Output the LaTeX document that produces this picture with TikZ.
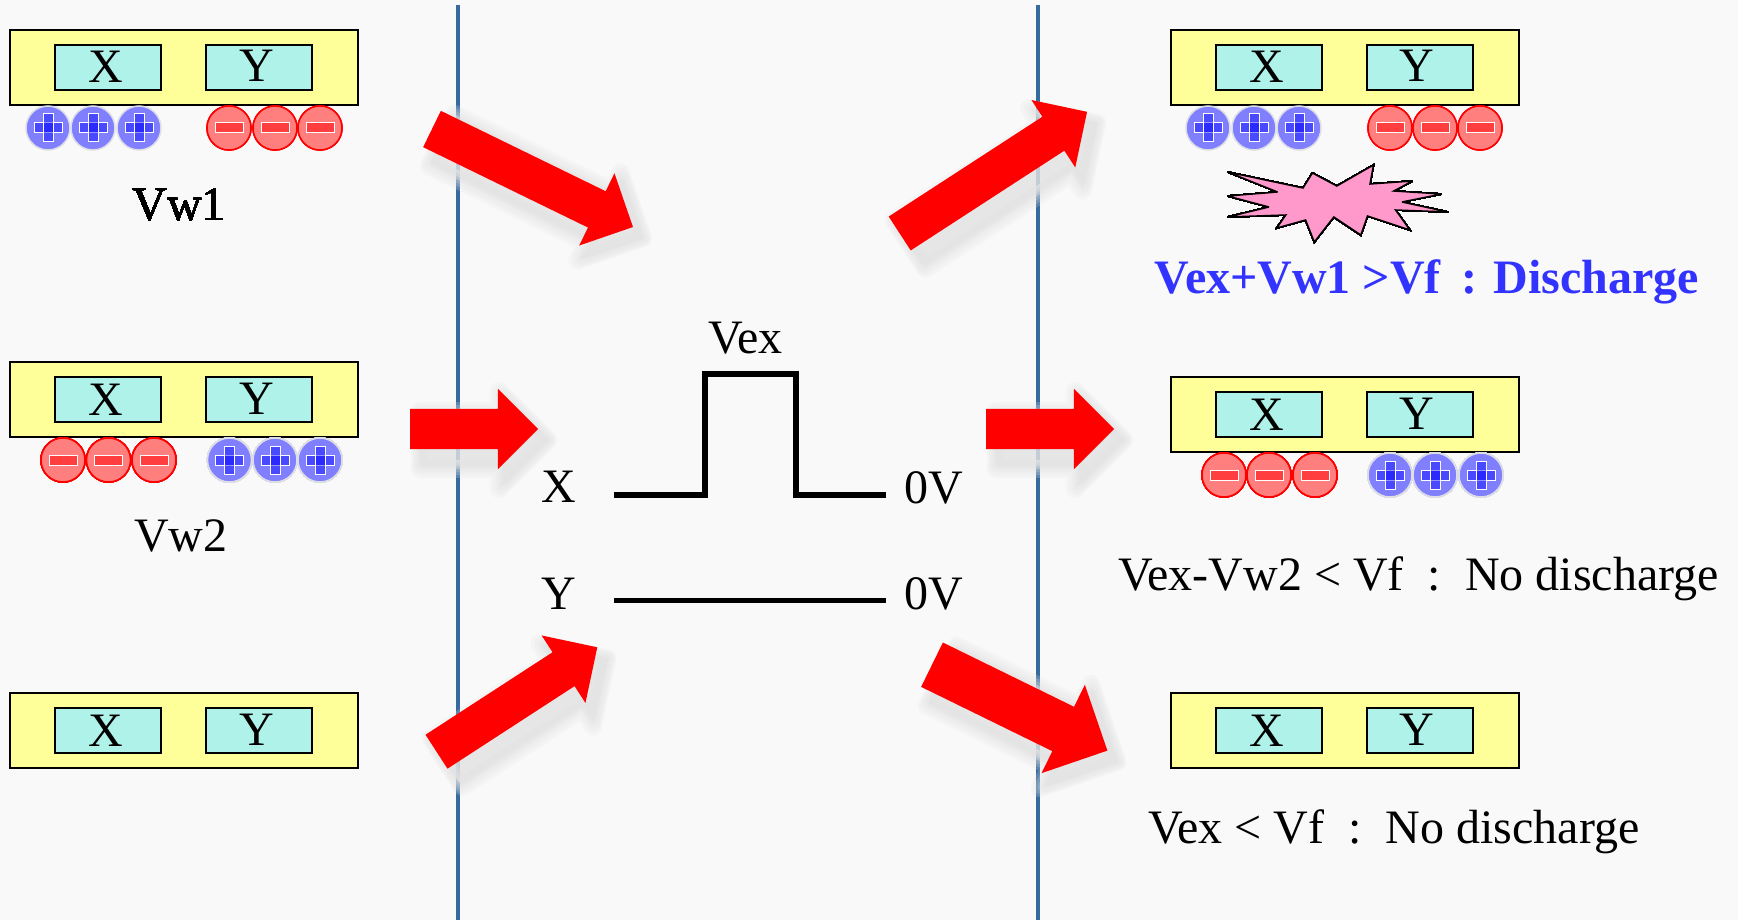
\documentclass[tikz,border=0pt]{standalone}
\usepackage{fontspec}
\setmainfont{Liberation Serif}
\usetikzlibrary{shapes.arrows}
\definecolor{pagebg}{HTML}{F9F9F9}
\definecolor{platefill}{HTML}{FFFF99}
\definecolor{cellfill}{HTML}{AEF2EA}
\definecolor{rulecolor}{HTML}{376A9E}
\definecolor{plusfill}{HTML}{7F7FFF}
\definecolor{plusedge}{HTML}{DDDDE6}
\definecolor{minusfill}{HTML}{FF7F7F}
\definecolor{sparkfill}{HTML}{FF99CC}
\definecolor{dischargeblue}{HTML}{3333FF}
\definecolor{shadecolor}{HTML}{E4E4E4}
\tikzset{
	txt/.style={font=\fontsize{48}{48}\selectfont, inner sep=0pt, anchor=base},
	plate/.style={draw=black, line width=2pt, fill=platefill, minimum width=348, minimum height=75, inner sep=0pt, outer sep=0pt},
	cell/.style={draw=black, line width=2pt, fill=cellfill, minimum width=106, minimum height=45, inner sep=0pt, outer sep=0pt},
	divider/.style={rulecolor, line width=4pt},
	wave/.style={black, line width=5.5pt},
	arrowbase/.style={single arrow, inner xsep=0pt, outer sep=0pt, anchor=tail},
	redarrow/.style={arrowbase, fill=red},
	arrowshade/.style={arrowbase, fill=shadecolor, draw=shadecolor, opacity=.22, line join=round},
	pluscharge/.style={circle, draw=plusedge, line width=1.5pt, fill=plusfill, minimum size=44, inner sep=0pt},
	minuscharge/.style={circle, draw=red, line width=1.5pt, fill=minusfill, minimum size=44, inner sep=0pt}
}
% plate with its two cells: name, x, y of the top left corner
\newcommand{\plateat}[3]{
	\node[plate, anchor=north west] (#1) at (#2,#3) {};
	\node[cell, anchor=north west] (#1x) at ([shift={(45,15)}]#1.north west) {};
	\node[cell, anchor=north west] (#1y) at ([shift={(196,15)}]#1.north west) {};
	\node[txt] (#1xl) at ([shift={(-2,15.5)}]#1x.center) {X};
	\node[txt] (#1yl) at ([shift={(-2.5,14.5)}]#1y.center) {Y};
}
% one charge: name, x, y
\newcommand{\plusat}[3]{
	\node[pluscharge] (#1) at (#2,#3) {};
	\draw[white, line width=1pt, fill=blue, fill opacity=.42] ([shift={(-14,-5)}]#1.center) rectangle ([shift={(14,5)}]#1.center);
	\draw[white, line width=1pt, fill=blue, fill opacity=.42] ([shift={(-5,-14)}]#1.center) rectangle ([shift={(5,14)}]#1.center);
}
\newcommand{\minusat}[3]{
	\node[minuscharge] (#1) at (#2,#3) {};
	\draw[white, line width=1pt, fill=red, fill opacity=.5] ([shift={(-14,-5)}]#1.center) rectangle ([shift={(14,5)}]#1.center);
}
% block arrow with soft shadow: name, x, y of the tail, angle, length, half shaft
\newcommand{\arrowat}[6]{
	\foreach \w in {18,15,12,9,6,3,1}
		\node[arrowshade, inner ysep=#6, single arrow head extend=#6, line width=\w, minimum height=#5, rotate=#4] at (#2+10,#3+11) {};
	\node[redarrow, inner ysep=#6, single arrow head extend=#6, minimum height=#5, rotate=#4] (#1) at (#2,#3) {};
}
\begin{document}
\begin{tikzpicture}[x=1pt, y=-1pt]
	\useasboundingbox (0,0) rectangle (1738,920);
	\fill[pagebg] (0,0) rectangle (1738,920);

	% dividers
	\coordinate (divLtop) at (458,5);
	\coordinate (divLbot) at (458,920);
	\coordinate (divRtop) at (1037.5,5);
	\coordinate (divRbot) at (1037.5,920);
	\draw[divider] (divLtop) -- (divLbot);
	\draw[divider] (divRtop) -- (divRbot);

	% left column
	\plateat{plateA}{10}{30}
	\plateat{plateB}{10}{362}
	\plateat{plateC}{10}{693}
	\foreach \i/\x in {1/48,2/93,3/139} \plusat{qa\i}{\x}{128}
	\foreach \i/\x in {1/229,2/275,3/320} \minusat{qb\i}{\x}{128}
	\foreach \i/\x in {1/63,2/108.5,3/154} \minusat{qc\i}{\x}{460}
	\foreach \i/\x in {1/229.5,2/275,3/320} \plusat{qd\i}{\x}{460}
	\node[txt] (vwone) at (179.3,220.3) {Vw1};
	\node[txt] (vwtwo) at (181,551) {Vw2};

	% right column
	\plateat{plateD}{1170.5}{30}
	\plateat{plateE}{1170.5}{377}
	\plateat{plateF}{1170.5}{693}
	\foreach \i/\x in {1/1208,2/1254,3/1299} \plusat{qe\i}{\x}{128}
	\foreach \i/\x in {1/1390,2/1435,3/1480} \minusat{qf\i}{\x}{128}
	\foreach \i/\x in {1/1224,2/1269,3/1315} \minusat{qg\i}{\x}{475}
	\foreach \i/\x in {1/1390,2/1435,3/1481} \plusat{qh\i}{\x}{475}
	\draw[black, line width=1.5pt, miter limit=4, fill=sparkfill] (1227.6,172) -- (1303,188) -- (1312.4,173) -- (1336.8,186) -- (1373.5,165) -- (1370,184) -- (1412.5,181) -- (1393.8,191) -- (1441.8,194) -- (1402,202) -- (1448,212) -- (1395.6,210) -- (1409.9,230) -- (1367.5,216) -- (1360.8,235) -- (1333.8,217) -- (1314.3,242) -- (1305.6,220) -- (1276.8,228) -- (1285.8,215) -- (1227.6,217) -- (1268.9,207) -- (1227.6,196) -- (1277.5,192) -- cycle;
	\node[txt, dischargeblue, font=\fontsize{48}{48}\selectfont\bfseries, anchor=base west] (resone) at (1154.5,294) {Vex+Vw1 >Vf\hspace{20.5pt}: Discharge};
	\node[txt, anchor=base west] (restwo) at (1118,590) {Vex-Vw2 < Vf\ \ :\ \ No discharge};
	\node[txt, anchor=base west] (resthree) at (1148,843.5) {Vex < Vf\ \ :\ \ No discharge};

	% middle
	\coordinate (xa) at (614,495);
	\coordinate (xb) at (705,495);
	\coordinate (xc) at (705,374);
	\coordinate (xd) at (796,374);
	\coordinate (xe) at (796,495);
	\coordinate (xf) at (886,495);
	\coordinate (ya) at (614,600.5);
	\coordinate (yb) at (886,600.5);
	\draw[wave] (xa) -- (xb) -- (xc) -- (xd) -- (xe) -- (xf);
	\draw[wave] (ya) -- (yb);
	\node[txt] (vexl) at (745.5,353) {Vex};
	\node[txt] (xl) at (558.5,502.5) {X};
	\node[txt] (yl) at (558.5,609) {Y};
	\node[txt, anchor=base west] (xzero) at (904,503) {0V};
	\node[txt, anchor=base west] (yzero) at (904,609) {0V};

	% arrows
	\arrowat{arA}{432}{129}{-26}{223.6}{20}
	\arrowat{arB}{410}{429}{0}{128}{20}
	\arrowat{arC}{436.5}{751.7}{33}{191.7}{20}
	\arrowat{arD}{899.7}{233.5}{33}{223.4}{20}
	\arrowat{arE}{986}{429}{0}{128}{20}
	\arrowat{arF}{932}{664.7}{-26.1}{195.3}{24.5}
\end{tikzpicture}
\end{document}
